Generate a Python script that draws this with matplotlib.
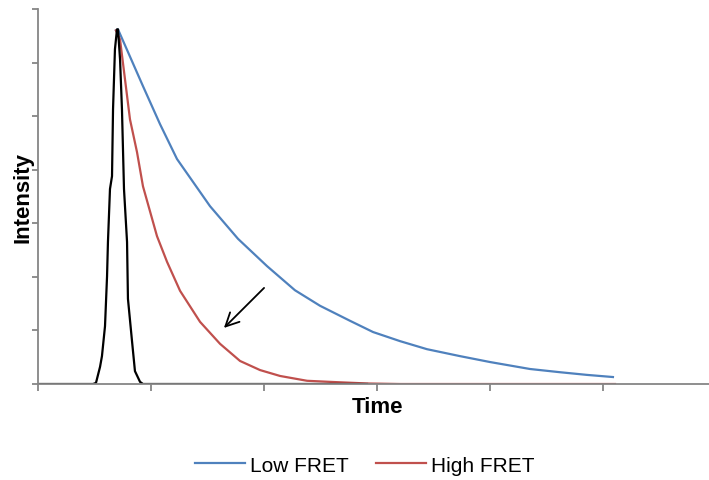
import matplotlib.pyplot as plt

plt.rcParams['font.family'] = ['Liberation Sans', 'DejaVu Sans']

# values (x: one unit per tick, y: one unit per tick)
low_t = [0.690, 0.708, 0.929, 1.080, 1.230, 1.522, 1.770, 2.027, 2.274, 2.496, 2.761,
         2.965, 3.204, 3.442, 3.735, 4.000, 4.354, 4.619, 4.858, 5.088]
low_i = [6.60, 6.62, 5.56, 4.85, 4.20, 3.32, 2.71, 2.20, 1.75, 1.46, 1.18,
         0.97, 0.80, 0.65, 0.52, 0.41, 0.28, 0.22, 0.17, 0.13]

high_t = [0.690, 0.726, 0.814, 0.876, 0.929, 1.053, 1.142, 1.257, 1.434, 1.611, 1.788,
          1.965, 2.142, 2.381, 2.584, 2.912, 3.204, 5.106]
high_i = [6.60, 6.43, 4.94, 4.33, 3.69, 2.76, 2.28, 1.74, 1.16, 0.75, 0.43,
          0.26, 0.15, 0.06, 0.04, 0.01, 0.0, 0.0]

irf_t = [0.0, 0.487, 0.513, 0.549, 0.566, 0.593, 0.611, 0.619, 0.637, 0.655, 0.664,
         0.681, 0.699, 0.708, 0.726, 0.743, 0.761, 0.788, 0.796, 0.832, 0.858,
         0.903, 0.929, 2.912]
irf_i = [0.0, 0.0, 0.02, 0.32, 0.52, 1.08, 2.01, 2.65, 3.64, 3.88, 5.13,
         6.25, 6.62, 6.62, 6.06, 5.13, 3.64, 2.65, 1.59, 0.80, 0.24,
         0.04, 0.0, 0.0]

arrow_from = (2.018, 1.83)
arrow_to = (1.628, 1.01)

fig = plt.figure(figsize=(7.09, 4.81), dpi=100)
ax = fig.add_axes([38 / 709, 1 - 385 / 481, (716 - 38) / 709, 375 / 481])

ax.plot(low_t, low_i, color='#4F81BD', lw=1.6, label='Low FRET')
ax.plot(high_t, high_i, color='#C0504D', lw=1.6, label='High FRET')
ax.plot(irf_t, irf_i, color='black', lw=1.6)

ax.annotate('', xy=arrow_to, xytext=arrow_from,
            arrowprops=dict(arrowstyle='->', color='black', lw=1.3,
                            mutation_scale=24))

ax.set_xlim(0, 6)
ax.set_ylim(0, 7)
ax.set_xticks(range(7))
ax.set_yticks(range(8))
ax.set_xticklabels([])
ax.set_yticklabels([])
for s in ['top', 'right']:
    ax.spines[s].set_visible(False)
for s in ['left', 'bottom']:
    ax.spines[s].set_color('#868686')
    ax.spines[s].set_linewidth(1.3)
ax.tick_params(axis='both', direction='out', color='#868686', width=1.3)
ax.tick_params(axis='x', length=5)
ax.tick_params(axis='y', length=4)

ax.set_xlabel('Time', fontsize=16, fontweight='bold', labelpad=0)
ax.set_ylabel('Intensity', fontsize=16, fontweight='bold', labelpad=-4)

fig.legend(loc='center', bbox_to_anchor=(0.514, 1 - 466 / 481), ncol=2,
           frameon=False, fontsize=15, handlelength=2.4, handletextpad=0.25,
           columnspacing=1.3)

fig.savefig('out.png', dpi=100)
